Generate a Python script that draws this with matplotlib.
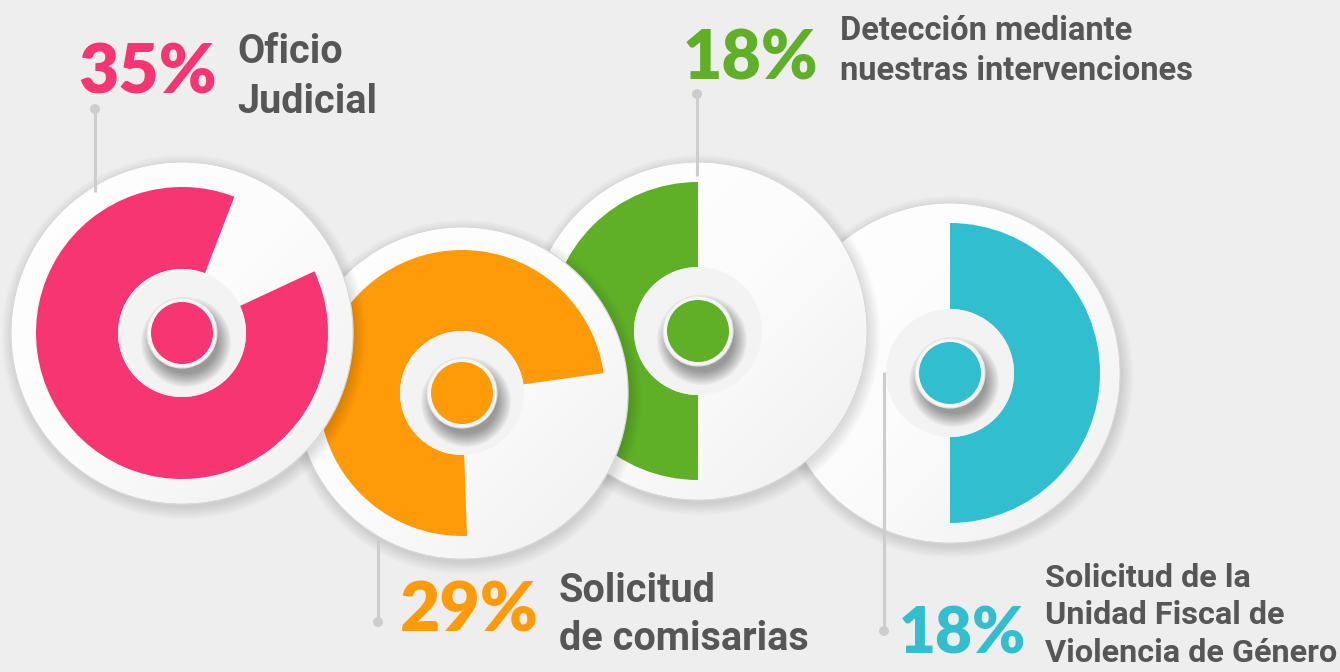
import numpy as np
import matplotlib.pyplot as plt
from matplotlib.patches import Circle, Wedge
from matplotlib.colors import LinearSegmentedColormap

# data
percents = [35, 29, 18, 18]
labels = ["Oficio\nJudicial",
          "Solicitud\nde comisarias",
          "Detección mediante\nnuestras intervenciones",
          "Solicitud de la\nUnidad Fiscal de\nViolencia de Género"]
colors = ["#F73573", "#FF9A08", "#5FAF27", "#31BFCF"]
fill_start = [69, 8, 90, 270]     # degrees, counter-clockwise on screen
fill_span = [316, 264, 180, 180]

# layout (pixel coords, y down)
centers = [(182, 333), (462, 393), (698, 331), (950, 373)]
disc_r = [171, 166, 169, 170]
ring_out = [146, 143, 149, 150]
ring_in = [64, 62, 64, 64]
dot_r = 31
layer = [4, 3, 2, 1]   # pink on top, teal at the bottom

pct_pos = [(78, 93), (400, 631), (683, 80), (899, 654)]
pct_size = [50, 50, 49, 46]
lab_pos = [(237, 63), (559, 602), (840, 40), (1045, 587)]
lab_size = [28.5, 28.5, 23.5, 23.3]
lab_lead = [50, 48, 40, 37.5]
leaders = [(95, 109, 192), (378, 622, 540), (697, 94, 176), (884, 631, 372)]

W, H = 1340, 672
fig = plt.figure(figsize=(W / 100, H / 100), dpi=100)
fig.patch.set_facecolor("#eeeeee")
ax = fig.add_axes([0, 0, 1, 1])
ax.set_xlim(0, W)
ax.set_ylim(H, 0)
ax.axis("off")

disc_cmap = LinearSegmentedColormap.from_list("disc", ["#ffffff", "#fcfcfc", "#efefef"])
yy, xx = np.mgrid[0:1:200j, 0:1:200j]
grad = (xx + yy) / 2

for i, (cx, cy) in enumerate(centers):
    z = layer[i] * 10
    R = disc_r[i]
    # soft drop shadow of the disc
    for k in range(8):
        ax.add_patch(Circle((cx + 2, cy + 4), R + k * 1.6, color="k", alpha=0.015,
                            lw=0, zorder=z))
    ax.add_patch(Circle((cx, cy), R, facecolor="#ffffff", edgecolor="#d9d9d9", lw=1.0,
                        zorder=z + 1))
    im = ax.imshow(grad, cmap=disc_cmap, extent=(cx - R, cx + R, cy + R, cy - R),
                   origin="upper", zorder=z + 1.5, interpolation="bilinear")
    im.set_clip_path(Circle((cx, cy), R - 0.8, transform=ax.transData))

    # coloured annular sector (screen angles -> data angles because y is flipped)
    t1 = -(fill_start[i] + fill_span[i])
    t2 = -fill_start[i]
    ax.add_patch(Wedge((cx, cy), ring_out[i], t1, t2, width=ring_out[i] - ring_in[i],
                       facecolor=colors[i], lw=0, zorder=z + 2))

    # inner hub
    ax.add_patch(Circle((cx, cy), ring_in[i], facecolor="#f3f3f3", lw=0, zorder=z + 3))
    for k in range(12):
        ax.add_patch(Circle((cx + 4, cy + 9), dot_r + 14 - k * 1.2, color="k", alpha=0.035,
                            lw=0, zorder=z + 4))
    ax.add_patch(Circle((cx, cy), dot_r + 4, facecolor="#f6f6f6", edgecolor="#e2e2e2",
                        lw=0.8, zorder=z + 5))
    ax.add_patch(Circle((cx, cy), dot_r, facecolor=colors[i], lw=0, zorder=z + 6))

# leader lines
for x, ydot, yend in leaders:
    ax.plot([x, x], [ydot, yend], color="#cdcdcd", lw=2.2, zorder=60, solid_capstyle="butt")
    ax.add_patch(Circle((x, ydot), 5, color="#cdcdcd", lw=0, zorder=61))

pct_font = ["Lato", "DejaVu Sans"]
lab_font = ["Roboto", "DejaVu Sans"]

for i in range(4):
    px, py = pct_pos[i]
    ax.text(px, py, f"{percents[i]}%", color=colors[i], fontsize=pct_size[i],
            fontweight="heavy", family=pct_font, ha="left", va="baseline", zorder=70)
    lx, ly = lab_pos[i]
    for j, line in enumerate(labels[i].split("\n")):
        ax.text(lx, ly + j * lab_lead[i], line, color="#565656", fontsize=lab_size[i],
                fontweight="bold", family=lab_font, ha="left", va="baseline", zorder=70)

fig.savefig("out.png", dpi=100, facecolor=fig.get_facecolor())
